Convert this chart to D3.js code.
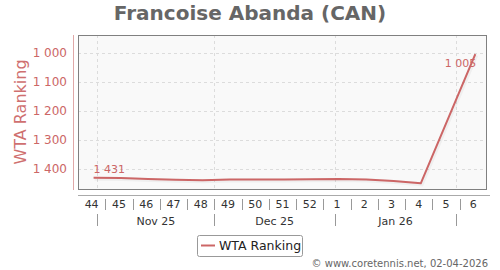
<!DOCTYPE html>
<html><head><meta charset="utf-8">
<script src="https://cdn.jsdelivr.net/npm/d3@7"></script>
<style>body{margin:0;background:#fff;}svg{display:block;font-family:"DejaVu Sans",sans-serif;}</style>
</head><body>
<svg id="c" width="500" height="270"></svg>
<script>
const title = "Francoise Abanda (CAN)";
const yTitle = "WTA Ranking";
const weeks = [44,45,46,47,48,49,50,51,52,1,2,3,4,5,6];
const ranking = [1431,1432,1435,1438,1439,1437,1437,1437,1436,1435,1437,1442,1450,null,1005];
const months = ["Nov 25","Dec 25","Jan 26"];
const monthStarts = ["2025-11-01","2025-12-01","2026-01-01","2026-02-01"];
const yTicks = [1000,1100,1200,1300,1400];
const firstWeekStart = "2025-10-27";
const lastWeekEnd = "2026-02-09";
const labeled = [0,14];
const credit = "© www.coretennis.net, 02-04-2026";

const red = "#cc6666";
const parse = d3.utcParse("%Y-%m-%d");
const svg = d3.select("#c");
const L=78,R=487,T=35,B=190;
const x = d3.scaleUtc().domain([parse(firstWeekStart), parse(lastWeekEnd)]).range([L,R]);
const y = d3.scaleLinear().domain([939,1473]).range([T,B]);
const DAY = 864e5;
const weekStart = i => new Date(parse(firstWeekStart).getTime() + i*7*DAY);
const pointDate = i => new Date(weekStart(i).getTime() + 4*DAY);
const fmt = d3.formatLocale({decimal:".",thousands:" ",grouping:[3],currency:["",""]}).format(",d");

// title
svg.append("text").attr("x",250).attr("y",20).attr("text-anchor","middle")
  .attr("font-size",20).attr("font-weight","bold").attr("fill","#666").text(title);

// plot bg
svg.append("rect").attr("x",L).attr("y",T).attr("width",R-L).attr("height",B-T).attr("fill","#f9f9f9");

// grid
svg.append("g").selectAll("line").data(yTicks).join("line")
  .attr("x1",L).attr("x2",R).attr("y1",d=>Math.round(y(d))+0.5).attr("y2",d=>Math.round(y(d))+0.5)
  .attr("stroke","#dcdcdc").attr("stroke-dasharray","3,3");
svg.append("g").selectAll("line").data(monthStarts).join("line")
  .attr("x1",d=>Math.round(x(parse(d)))+0.5).attr("x2",d=>Math.round(x(parse(d)))+0.5)
  .attr("y1",T).attr("y2",B).attr("stroke","#dcdcdc").attr("stroke-dasharray","3,3");

// border
svg.append("rect").attr("x",L+0.5).attr("y",T+0.5).attr("width",R-L-1).attr("height",B-T-1)
  .attr("fill","none").attr("stroke","#808080");

// y axis
const ya = svg.append("g").attr("transform","translate(73,0)")
  .call(d3.axisLeft(y).tickValues(yTicks).tickFormat(fmt).tickSize(0).tickPadding(6));
ya.select(".domain").attr("stroke","#e0a8a8").attr("d",`M0.5,${T}V${B}`);
ya.selectAll("text").attr("fill",red).attr("font-size",12).attr("font-family","DejaVu Sans");
svg.append("text").attr("transform","translate(26,112) rotate(-90)").attr("text-anchor","middle")
  .attr("font-size",16).attr("fill","#cf7070").text(yTitle);

// x axis line
svg.append("line").attr("x1",L).attr("x2",R+3).attr("y1",195.5).attr("y2",195.5).attr("stroke","#aaa");

// week labels and separators
const wk = svg.append("g");
const bounds = d3.range(1,weeks.length).map(weekStart);
wk.selectAll("line").data(bounds).join("line")
  .attr("x1",d=>Math.round(x(d))+0.5).attr("x2",d=>Math.round(x(d))+0.5)
  .attr("y1",199).attr("y2",210).attr("stroke","#999");
wk.selectAll("text").data(weeks).join("text")
  .attr("x",(d,i)=>(x(weekStart(i))+x(weekStart(i+1)))/2).attr("y",208)
  .attr("text-anchor","middle").attr("font-size",11).attr("fill","#333").text(d=>d);

// month labels and separators
const mo = svg.append("g");
mo.selectAll("line").data(monthStarts).join("line")
  .attr("x1",d=>Math.round(x(parse(d)))+0.5).attr("x2",d=>Math.round(x(parse(d)))+0.5)
  .attr("y1",214).attr("y2",226).attr("stroke","#999");
mo.selectAll("text").data(months).join("text")
  .attr("x",(d,i)=>(x(parse(monthStarts[i]))+x(parse(monthStarts[i+1])))/2).attr("y",224.5)
  .attr("text-anchor","middle").attr("font-size",11).attr("fill","#333").text(d=>d);

// line
const pts = ranking.map((v,i)=>({v,i})).filter(d=>d.v!==null);
const line = d3.line().x(d=>x(pointDate(d.i))).y(d=>y(d.v));
svg.append("path").datum(pts).attr("d",line).attr("fill","none")
  .attr("stroke","rgba(0,0,0,0.04)").attr("stroke-width",4).attr("transform","translate(1,1)");
svg.append("path").datum(pts).attr("d",line).attr("fill","none")
  .attr("stroke",red).attr("stroke-width",2).attr("stroke-linejoin","round");

// data labels
const first = pts.find(d=>d.i===labeled[0]);
svg.append("text").attr("x",x(pointDate(first.i))).attr("y",y(first.v)-5)
  .attr("font-size",11).attr("fill",red).text(fmt(first.v));
const last = pts.find(d=>d.i===labeled[1]);
svg.append("text").attr("x",x(pointDate(last.i))+1).attr("y",y(last.v)+13).attr("text-anchor","end")
  .attr("font-size",11).attr("fill",red).text(fmt(last.v));

// legend
svg.append("rect").attr("x",197.5).attr("y",235.5).attr("width",105).attr("height",21).attr("rx",2)
  .attr("fill","#fff").attr("stroke","#999");
svg.append("line").attr("x1",201).attr("x2",215).attr("y1",245.5).attr("y2",245.5).attr("stroke",red).attr("stroke-width",2);
svg.append("text").attr("x",219).attr("y",250).attr("font-size",12.5).attr("fill","#222").text(yTitle);

// credits
svg.append("text").attr("x",488).attr("y",266.5).attr("text-anchor","end").attr("font-size",10).attr("fill","#666").text(credit);
</script>
</body></html>
